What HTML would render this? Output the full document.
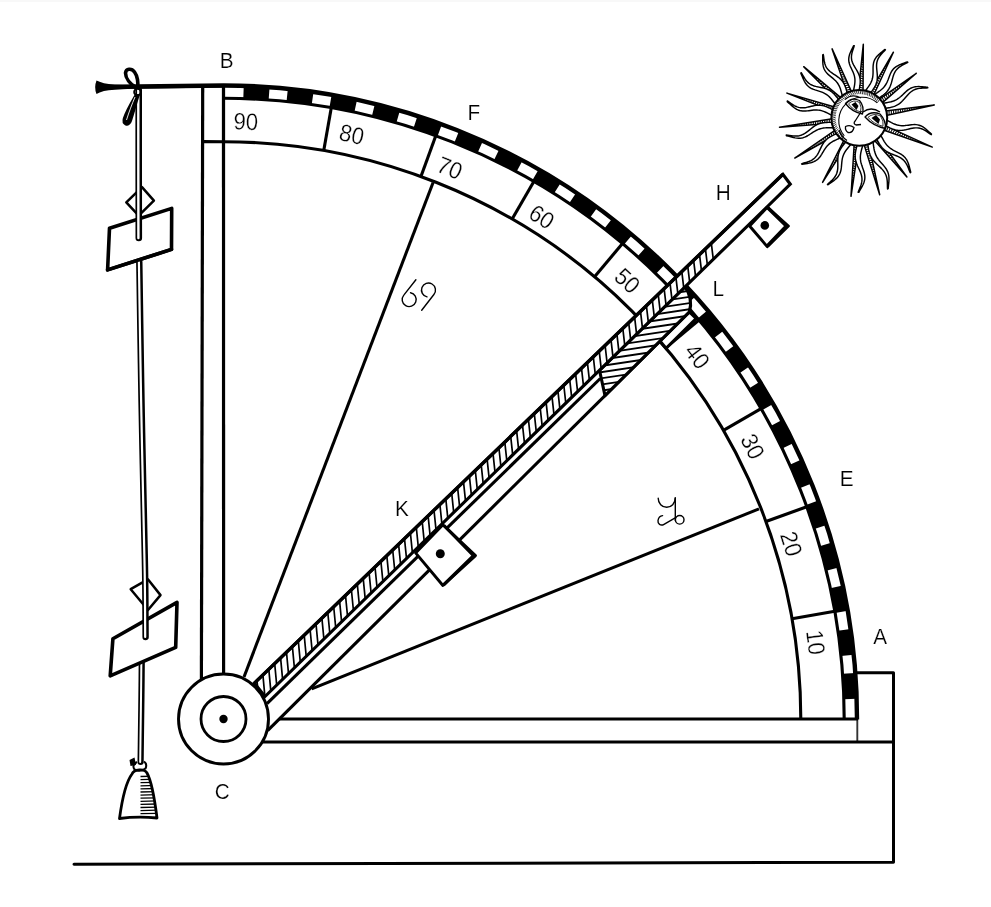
<!DOCTYPE html>
<html><head><meta charset="utf-8"><style>
html,body{margin:0;padding:0;background:#fff;}
svg{display:block;will-change:transform;}
.num{font-family:"Liberation Sans",sans-serif;font-size:23.8px;text-anchor:middle;dominant-baseline:central;fill:#000;stroke:#fff;stroke-width:0.28px;}
.lab{font-family:"Liberation Sans",sans-serif;font-size:22.3px;text-anchor:middle;fill:#000;stroke:#fff;stroke-width:0.2px;}
</style></head><body>
<svg width="991" height="907" viewBox="0 0 991 907">
<rect width="991" height="907" fill="#fff"/><rect width="991" height="2" fill="#f8f8f8"/>
<path d="M74 864.2 L893.5 862.3 L893.5 672.8 L857 672.8" fill="none" stroke="#000" stroke-width="3" stroke-linecap="round" stroke-linejoin="round"/>
<path d="M857.3 719 L857.3 742" stroke="#333" stroke-width="1.9"/>
<path d="M262 742 L893.5 742" stroke="#000" stroke-width="3.1"/>
<path d="M279 719 L858 719" stroke="#000" stroke-width="3.1"/>
<path d="M202.7 85 L201.4 680" stroke="#000" stroke-width="3.2"/>
<path d="M223.5 85 L223.6 676" stroke="#000" stroke-width="3.2"/>
<path d="M269.57 87.18 A633.5 633.5 0 0 0 243.73 85.82 L243.32 98.62 A620.7 620.7 0 0 1 268.63 99.94 Z" fill="#000"/>
<path d="M313.53 91.93 A633.5 633.5 0 0 0 287.85 88.78 L286.55 101.51 A620.7 620.7 0 0 1 311.71 104.6 Z" fill="#000"/>
<path d="M357.05 99.74 A633.5 633.5 0 0 0 331.65 94.8 L329.47 107.41 A620.7 620.7 0 0 1 354.35 112.25 Z" fill="#000"/>
<path d="M399.92 110.56 A633.5 633.5 0 0 0 374.93 103.87 L371.87 116.29 A620.7 620.7 0 0 1 396.36 122.86 Z" fill="#000"/>
<path d="M441.94 124.35 A633.5 633.5 0 0 0 417.47 115.93 L413.55 128.11 A620.7 620.7 0 0 1 437.52 136.37 Z" fill="#000"/>
<path d="M482.88 141.04 A633.5 633.5 0 0 0 459.07 130.93 L454.31 142.81 A620.7 620.7 0 0 1 477.64 152.71 Z" fill="#000"/>
<path d="M522.57 160.54 A633.5 633.5 0 0 0 499.52 148.79 L493.94 160.31 A620.7 620.7 0 0 1 516.53 171.82 Z" fill="#000"/>
<path d="M560.8 182.76 A633.5 633.5 0 0 0 538.62 169.44 L532.25 180.54 A620.7 620.7 0 0 1 553.98 193.59 Z" fill="#000"/>
<path d="M597.38 207.59 A633.5 633.5 0 0 0 576.19 192.76 L569.06 203.39 A620.7 620.7 0 0 1 589.83 217.93 Z" fill="#000"/>
<path d="M632.14 234.92 A633.5 633.5 0 0 0 612.04 218.64 L604.19 228.75 A620.7 620.7 0 0 1 623.89 244.7 Z" fill="#000"/>
<path d="M664.92 264.61 A633.5 633.5 0 0 0 646 246.96 L637.46 256.5 A620.7 620.7 0 0 1 656 273.79 Z" fill="#000"/>
<path d="M695.54 296.5 A633.5 633.5 0 0 0 677.89 277.58 L668.71 286.5 A620.7 620.7 0 0 1 686 305.04 Z" fill="#000"/>
<path d="M723.86 330.46 A633.5 633.5 0 0 0 707.58 310.36 L697.8 318.61 A620.7 620.7 0 0 1 713.75 338.31 Z" fill="#000"/>
<path d="M749.74 366.31 A633.5 633.5 0 0 0 734.91 345.12 L724.57 352.67 A620.7 620.7 0 0 1 739.11 373.44 Z" fill="#000"/>
<path d="M773.06 403.88 A633.5 633.5 0 0 0 759.74 381.7 L748.91 388.52 A620.7 620.7 0 0 1 761.96 410.25 Z" fill="#000"/>
<path d="M793.71 442.98 A633.5 633.5 0 0 0 781.96 419.93 L770.68 425.97 A620.7 620.7 0 0 1 782.19 448.56 Z" fill="#000"/>
<path d="M811.57 483.43 A633.5 633.5 0 0 0 801.46 459.62 L789.79 464.86 A620.7 620.7 0 0 1 799.69 488.19 Z" fill="#000"/>
<path d="M826.57 525.03 A633.5 633.5 0 0 0 818.15 500.56 L806.13 504.98 A620.7 620.7 0 0 1 814.39 528.95 Z" fill="#000"/>
<path d="M838.63 567.57 A633.5 633.5 0 0 0 831.94 542.58 L819.64 546.14 A620.7 620.7 0 0 1 826.21 570.63 Z" fill="#000"/>
<path d="M847.7 610.85 A633.5 633.5 0 0 0 842.76 585.45 L830.25 588.15 A620.7 620.7 0 0 1 835.09 613.03 Z" fill="#000"/>
<path d="M853.72 654.65 A633.5 633.5 0 0 0 850.57 628.97 L837.9 630.79 A620.7 620.7 0 0 1 840.99 655.95 Z" fill="#000"/>
<path d="M856.68 698.77 A633.5 633.5 0 0 0 855.32 672.93 L842.56 673.87 A620.7 620.7 0 0 1 843.88 699.18 Z" fill="#000"/>
<path d="M800.8 719 A577.3 577.3 0 0 0 223.5 141.7 L202.6 141.6" fill="none" stroke="#000" stroke-width="3.1"/>
<path d="M844.2 719 A620.7 620.7 0 0 0 223.5 98.3" fill="none" stroke="#000" stroke-width="3.1"/>
<path d="M857 719.5 L857 719 A633.5 633.5 0 0 0 223.5 85.5 L96 87" fill="none" stroke="#000" stroke-width="4.4"/>
<path d="M792.03 618.75 L834.77 611.22" stroke="#000" stroke-width="3.1"/>
<path d="M765.98 521.55 L806.77 506.71" stroke="#000" stroke-width="3.1"/>
<path d="M723.46 430.35 L761.04 408.65" stroke="#000" stroke-width="3.1"/>
<path d="M665.74 347.92 L698.98 320.02" stroke="#000" stroke-width="3.1"/>
<path d="M594.58 276.76 L622.48 243.52" stroke="#000" stroke-width="3.1"/>
<path d="M512.15 219.04 L533.85 181.46" stroke="#000" stroke-width="3.1"/>
<path d="M420.95 176.52 L435.79 135.73" stroke="#000" stroke-width="3.1"/>
<path d="M323.75 150.47 L331.28 107.73" stroke="#000" stroke-width="3.1"/>
<text x="0" y="0" transform="translate(815.79 642.45) rotate(82.64) scale(0.93 1)" class="num">10</text>
<text x="0" y="0" transform="translate(791.4 543.79) rotate(72.85) scale(0.93 1)" class="num">20</text>
<text x="0" y="0" transform="translate(752.73 446.4) rotate(62.75) scale(0.93 1)" class="num">30</text>
<text x="0" y="0" transform="translate(697.43 356.26) rotate(52.57) scale(0.93 1)" class="num">40</text>
<text x="0" y="0" transform="translate(627.38 280.66) rotate(42.66) scale(0.93 1)" class="num">50</text>
<text x="0" y="0" transform="translate(541.79 216.88) rotate(32.37) scale(0.93 1)" class="num">60</text>
<text x="0" y="0" transform="translate(449.79 167.9) rotate(22.32) scale(0.93 1)" class="num">70</text>
<text x="0" y="0" transform="translate(351.9 134.33) rotate(12.39) scale(0.93 1)" class="num">80</text>
<text x="0" y="0" transform="translate(245.9 121.54) rotate(2.15) scale(0.93 1)" class="num">90</text>
<path d="M244 677 L433.1 182.5" stroke="#000" stroke-width="3.05"/>
<path d="M311.7 688.8 L759 508.9" stroke="#000" stroke-width="3.05"/>
<path d="M267 703.55 L600.3 378.5" stroke="#000" stroke-width="3.1"/>
<path d="M267.6 730.6 L689.4 311.8" stroke="#000" stroke-width="3.1"/>
<path d="M689.4 311.8 L659.91 341.08 L666.09 348.33 L696.12 318.52 Z" fill="#fff" stroke="#000" stroke-width="3.1"/>
<clipPath id="cpar"><path d="M599.5 370.28 L685.2 286.7 Q693.2 299.25 689.4 311.8 L605 395.6 Z"/></clipPath>
<path d="M599.5 370.28 L685.2 286.7 Q693.2 299.25 689.4 311.8 L605 395.6 Z" fill="#fff"/>
<path clip-path="url(#cpar)" d="M590 287 L710 269 M590 293.2 L710 275.2 M590 299.4 L710 281.4 M590 305.6 L710 287.6 M590 311.8 L710 293.8 M590 318 L710 300 M590 324.2 L710 306.2 M590 330.4 L710 312.4 M590 336.6 L710 318.6 M590 342.8 L710 324.8 M590 349 L710 331 M590 355.2 L710 337.2 M590 361.4 L710 343.4 M590 367.6 L710 349.6 M590 373.8 L710 355.8 M590 380 L710 362 M590 386.2 L710 368.2 M590 392.4 L710 374.4 M590 398.6 L710 380.6 M590 404.8 L710 386.8 M590 411 L710 393 M590 417.2 L710 399.2 M590 423.4 L710 405.4 M590 429.6 L710 411.6 M590 435.8 L710 417.8 M590 442 L710 424 M590 448.2 L710 430.2 M590 454.4 L710 436.4 M590 460.6 L710 442.6 M590 466.8 L710 448.8 M590 473 L710 455 M590 479.2 L710 461.2 M590 485.4 L710 467.4 M590 491.6 L710 473.6 M590 497.8 L710 479.8 M590 504 L710 486 M590 510.2 L710 492.2 M590 516.4 L710 498.4 M590 522.6 L710 504.6 M590 528.8 L710 510.8 M590 535 L710 517 M590 541.2 L710 523.2 M590 547.4 L710 529.4 M590 553.6 L710 535.6 M590 559.8 L710 541.8" stroke="#000" stroke-width="1.9"/>
<path d="M599.5 370.28 L685.2 286.7 Q693.2 299.25 689.4 311.8 L605 395.6 Z" fill="none" stroke="#000" stroke-width="3.1" stroke-linejoin="round"/>
<path d="M254.4 683.1 L782.9 174.3 L790.3 184.2 L265 696.5 Z" fill="#fff" stroke="#000" stroke-width="3.1" stroke-linejoin="miter"/>
<clipPath id="cali"><path d="M254.4 683.1 L782.9 174.3 L790.3 184.2 L265 696.5 Z"/></clipPath>
<path clip-path="url(#cali)" d="M256.9 679.63 L259.1 703.33 M262.8 673.95 L265 697.57 M268.7 668.27 L270.9 691.82 M274.6 662.59 L276.8 686.06 M280.5 656.91 L282.7 680.31 M286.4 651.23 L288.6 674.56 M292.3 645.55 L294.5 668.8 M298.2 639.87 L300.4 663.05 M304.1 634.19 L306.3 657.29 M310 628.51 L312.2 651.54 M315.9 622.83 L318.1 645.79 M321.8 617.15 L324 640.03 M327.7 611.47 L329.9 634.28 M333.6 605.79 L335.8 628.52 M339.5 600.11 L341.7 622.77 M345.4 594.43 L347.6 617.02 M351.3 588.75 L353.5 611.26 M357.2 583.07 L359.4 605.51 M363.1 577.39 L365.3 599.75 M369 571.71 L371.2 594 M374.9 566.03 L377.1 588.25 M380.8 560.35 L383 582.49 M386.7 554.67 L388.9 576.74 M392.6 548.99 L394.8 570.99 M398.5 543.31 L400.7 565.23 M404.4 537.63 L406.6 559.48 M410.3 531.95 L412.5 553.72 M416.2 526.27 L418.4 547.97 M422.1 520.59 L424.3 542.22 M428 514.91 L430.2 536.46 M433.9 509.23 L436.1 530.71 M439.8 503.55 L442 524.95 M445.7 497.87 L447.9 519.2 M451.6 492.19 L453.8 513.45 M457.5 486.51 L459.7 507.69 M463.4 480.83 L465.6 501.94 M469.3 475.15 L471.5 496.18 M475.2 469.47 L477.4 490.43 M481.1 463.79 L483.3 484.68 M487 458.11 L489.2 478.92 M492.9 452.43 L495.1 473.17 M498.8 446.75 L501 467.41 M504.7 441.07 L506.9 461.66 M510.6 435.39 L512.8 455.91 M516.5 429.71 L518.7 450.15 M522.4 424.03 L524.6 444.4 M528.3 418.35 L530.5 438.64 M534.2 412.67 L536.4 432.89 M540.1 406.99 L542.3 427.14 M546 401.31 L548.2 421.38 M551.9 395.63 L554.1 415.63 M557.8 389.95 L560 409.87 M563.7 384.27 L565.9 404.12 M569.6 378.59 L571.8 398.37 M575.5 372.91 L577.7 392.61 M581.4 367.23 L583.6 386.86 M587.3 361.55 L589.5 381.1 M593.2 355.87 L595.4 375.35 M599.1 350.19 L601.3 369.6 M605 344.51 L607.2 363.84 M610.9 338.83 L613.1 358.09 M616.8 333.15 L619 352.33 M622.7 327.47 L624.9 346.58 M628.6 321.79 L630.8 340.83 M634.5 316.11 L636.7 335.07 M640.4 310.43 L642.6 329.32 M646.3 304.75 L648.5 323.56 M652.2 299.07 L654.4 317.81 M658.1 293.39 L660.3 312.06 M664 287.71 L666.2 306.3 M669.9 282.03 L672.1 300.55 M675.8 276.35 L678 294.79 M681.7 270.67 L683.9 289.04 M687.6 264.99 L689.8 283.29 M693.5 259.31 L695.7 277.53 M699.4 253.63 L701.6 271.78 M705.3 247.95 L707.5 266.02 M711.2 242.27 L713.4 260.27" stroke="#000" stroke-width="1.7"/>
<path d="M254.4 683.1 L782.9 174.3" stroke="#000" stroke-width="3.4"/>
<path d="M442.9 524.7 L475.5 555.6 L442.9 585.5 L415.6 552.9 Z" fill="#fff" stroke="#000" stroke-width="2.9" stroke-linejoin="round"/>
<path d="M444 525.5 L473.5 555.6 L443.5 585" fill="none" stroke="#000" stroke-width="3.2" stroke-linejoin="miter"/>
<circle cx="440.3" cy="553.8" r="4.5" fill="#000"/>
<path d="M767.2 207.2 L788.4 226 L767.2 246.6 L749.6 226 Z" fill="#fff" stroke="#000" stroke-width="2.9" stroke-linejoin="round"/>
<path d="M768 208 L786.5 226 L767.8 245.6" fill="none" stroke="#000" stroke-width="3.6"/>
<circle cx="764.8" cy="225.4" r="4.3" fill="#000"/>
<circle cx="223.5" cy="719.0" r="45" fill="#fff" stroke="#000" stroke-width="2.9"/>
<circle cx="223.5" cy="719.0" r="22.5" fill="none" stroke="#000" stroke-width="2.8"/>
<circle cx="223.5" cy="719.0" r="4.2" fill="#000"/>
<g fill="none" stroke="#000" stroke-width="1.4" stroke-linecap="round"><path d="M658.2 498.3 A8.5 9 0 0 0 675.2 498.3"/><path d="M675.3 497.8 L675.3 520.5"/><circle cx="679.7" cy="519.8" r="4.3"/><path d="M675.6 517.6 L664 524.3 C660.5 526.3 657.6 523.8 658 520.5 C658.5 517.5 660.5 515.8 662.6 515.6"/></g>
<g fill="none" stroke="#000" stroke-width="1.4" stroke-linecap="round"><path d="M415.9 279.8 L403.8 295.1 A7 7 0 1 0 410.5 292.7"/><path d="M421.7 310.2 L433.9 294.5 A7 7 0 1 0 427 296.9"/></g>
<path d="M96.5 80.5 Q99 81.5 104 83.2 Q112 85 132 85.3 L224 84 L224 87.4 L132 88.8 Q112 89.5 104 91 Q99 92.5 96.5 94 Q93.8 87.3 96.5 80.5 Z" fill="#000"/>
<path d="M126.3 202.4 L142 187.2 L153.9 200.7 L138.7 215.6 Z" fill="none" stroke="#000" stroke-width="2.5" stroke-linejoin="round"/>
<path d="M130.7 589.2 L147.9 579.3 L160.5 595.1 L148 610 Z" fill="none" stroke="#000" stroke-width="2.5" stroke-linejoin="round"/>
<path d="M141.8 655 L141.78 657.67 L141.75 661.17 L141.72 665.34 L141.68 670 L141.64 674.97 L141.6 680.08 L141.55 685.15 L141.5 690 L141.45 694.82 L141.39 699.84 L141.32 704.99 L141.26 710.19 L141.19 715.37 L141.12 720.45 L141.06 725.35 L141 730 L140.94 734.6 L140.88 739.31 L140.83 743.99 L140.77 748.5 L140.72 752.7 L140.67 756.44 L140.63 759.59 L140.6 762" fill="none" stroke="#000" stroke-width="6.2" stroke-linecap="round" stroke-linejoin="round"/><path d="M141.4 655 L141.38 657.67 L141.35 661.17 L141.32 665.34 L141.28 670 L141.24 674.97 L141.2 680.08 L141.15 685.15 L141.1 690 L141.05 694.82 L140.99 699.84 L140.92 704.99 L140.86 710.19 L140.79 715.37 L140.72 720.45 L140.66 725.35 L140.6 730 L140.54 734.6 L140.48 739.31 L140.43 743.99 L140.37 748.5 L140.32 752.7 L140.27 756.44 L140.23 759.59 L140.2 762" fill="none" stroke="#fff" stroke-width="2.0" stroke-linecap="round" stroke-linejoin="round"/>
<path d="M109.5 228.2 L171.7 208.4 L171.5 249.4 L107.6 269.9 Z" fill="#fff" stroke="#000" stroke-width="3.6" stroke-linejoin="round"/>
<path d="M112.9 638.8 L177 602.4 L175.7 647.4 L110.2 675.8 Z" fill="#fff" stroke="#000" stroke-width="3.6" stroke-linejoin="round"/>
<path d="M138.7 90 L138.7 95.35 L138.7 102.39 L138.7 110.77 L138.69 120.12 L138.69 130.09 L138.69 140.3 L138.7 150.39 L138.7 160 L138.71 169.9 L138.72 180.77 L138.73 192.09 L138.75 203.38 L138.77 214.11 L138.78 223.8 L138.79 231.93 L138.8 238" fill="none" stroke="#000" stroke-width="6.6" stroke-linecap="round" stroke-linejoin="round"/><path d="M138.3 90 L138.3 95.35 L138.3 102.39 L138.3 110.77 L138.29 120.12 L138.29 130.09 L138.29 140.3 L138.3 150.39 L138.3 160 L138.31 169.9 L138.32 180.77 L138.33 192.09 L138.35 203.38 L138.37 214.11 L138.38 223.8 L138.39 231.93 L138.4 238" fill="none" stroke="#fff" stroke-width="2.4" stroke-linecap="round" stroke-linejoin="round"/>
<path d="M139.3 262 L139.47 272.77 L139.69 287.22 L139.95 304.43 L140.24 323.5 L140.56 343.5 L140.88 363.53 L141.2 382.67 L141.5 400 L141.81 416.27 L142.13 432.67 L142.47 448.96 L142.81 464.88 L143.14 480.19 L143.46 494.64 L143.75 507.99 L144 520 L144.22 530.39 L144.41 539.29 L144.58 547.03 L144.73 553.94 L144.87 560.36 L144.99 566.62 L145.1 573.05 L145.2 580 L145.29 587.66 L145.37 595.8 L145.43 604.1 L145.47 612.25 L145.51 619.93 L145.55 626.83 L145.57 632.62 L145.6 637" fill="none" stroke="#000" stroke-width="6.4" stroke-linecap="round" stroke-linejoin="round"/><path d="M138.9 262 L139.07 272.77 L139.29 287.22 L139.55 304.43 L139.84 323.5 L140.16 343.5 L140.48 363.53 L140.8 382.67 L141.1 400 L141.41 416.27 L141.73 432.67 L142.07 448.96 L142.41 464.88 L142.74 480.19 L143.06 494.64 L143.35 507.99 L143.6 520 L143.82 530.39 L144.01 539.29 L144.18 547.03 L144.33 553.94 L144.47 560.36 L144.59 566.62 L144.7 573.05 L144.8 580 L144.89 587.66 L144.97 595.8 L145.03 604.1 L145.07 612.25 L145.11 619.93 L145.15 626.83 L145.17 632.62 L145.2 637" fill="none" stroke="#fff" stroke-width="2.2" stroke-linecap="round" stroke-linejoin="round"/>
<path d="M171.5 249.4 L107.6 269.9" fill="none" stroke="#000" stroke-width="3.6" stroke-linecap="round"/>
<clipPath id="cbell"><path d="M119.5 818.5 C122 800 126 782 132 774 C134 769 144.5 768.5 147 773 C152 782 155 802 157 818 Q138 816 119.5 818.5 Z"/></clipPath>
<path d="M119.5 818.5 C122 800 126 782 132 774 C134 769 144.5 768.5 147 773 C152 782 155 802 157 818 Q138 816 119.5 818.5 Z" fill="#fff" stroke="#000" stroke-width="2.8" stroke-linejoin="round"/>
<path clip-path="url(#cbell)" d="M140.5 776.5 L160 776 M140.5 779.6 L160 779.1 M140.5 782.7 L160 782.2 M140.5 785.8 L160 785.3 M140.5 788.9 L160 788.4 M140.5 792 L160 791.5 M140.5 795.1 L160 794.6 M140.5 798.2 L160 797.7 M140.5 801.3 L160 800.8 M140.5 804.4 L160 803.9 M140.5 807.5 L160 807 M140.5 810.6 L160 810.1 M140.5 813.7 L160 813.2" stroke="#000" stroke-width="1.3"/>
<path d="M137 762 Q131.5 765 134.5 769.5 Q140 772.5 145.5 768.5 Q147.5 764 144 761.5" fill="none" stroke="#000" stroke-width="2"/>
<path d="M129.5 760 L134.5 757.5 L136 765 L130.5 766 Z" fill="#000"/>
<g fill="none" stroke="#000" stroke-linejoin="round"><path d="M136.5 88 C130 84 125.5 78 125.5 73 C126 68.5 131.5 68 134.5 72 C137.5 76 138.5 83 137.5 88" stroke-width="3.6"/><path d="M137 94 C133 101 127.5 110 124.5 118.5 C123 124 127.5 126 130 121.5 C132.5 114 135.5 103 138 95" stroke-width="3.4" fill="#000"/><circle cx="137.5" cy="92" r="3.3" stroke-width="2"/></g>
<path d="M126.5 120 C129 112 132 104 135 97" fill="none" stroke="#fff" stroke-width="0.9"/>
<path d="M863.06 91.06 L863.3 44.3 L858.47 90.81" fill="#fff" stroke="#000" stroke-width="1.5" stroke-linejoin="round"/>
<path d="M862.86 88.05 L859.02 87.24 M862.88 85.75 L859.25 84.95 M862.91 83.45 L859.48 82.66 M862.93 81.14 L859.7 80.37 M862.95 78.84 L859.93 78.08 M862.98 76.54 L860.16 75.78 M863 74.24 L860.38 73.49 M863.02 71.93 L860.61 71.2 M863.04 69.63 L860.84 68.91 M863.07 67.33 L861.06 66.62 M863.09 65.03 L861.29 64.33 M863.11 62.73 L861.52 62.04 M863.14 60.42 L861.74 59.75 M863.16 58.12 L861.97 57.46" stroke="#000" stroke-width="1.05"/>
<path d="M873.75 94.99 L893.4 52.2 L869.67 92.87" fill="#fff" stroke="#000" stroke-width="1.5" stroke-linejoin="round"/>
<path d="M874.81 92.16 L871.65 89.84 M875.78 90.08 L872.8 87.85 M876.75 87.99 L873.95 85.86 M877.72 85.9 L875.1 83.86 M878.69 83.81 L876.25 81.87 M879.67 81.73 L877.4 79.87 M880.64 79.64 L878.55 77.88 M881.61 77.55 L879.7 75.89 M882.58 75.46 L880.85 73.89 M883.55 73.38 L882 71.9 M884.52 71.29 L883.15 69.9 M885.49 69.2 L884.3 67.91 M886.46 67.11 L885.46 65.92 M887.43 65.03 L886.61 63.92" stroke="#000" stroke-width="1.05"/>
<path d="M881.92 103.06 L916.3 73.3 L879.09 99.43" fill="#fff" stroke="#000" stroke-width="1.5" stroke-linejoin="round"/>
<path d="M884.06 100.92 L882.15 97.51 M885.81 99.43 L884.03 96.17 M887.55 97.93 L885.91 94.84 M889.3 96.43 L887.78 93.51 M891.05 94.93 L889.66 92.18 M892.8 93.43 L891.54 90.84 M894.55 91.94 L893.42 89.51 M896.3 90.44 L895.29 88.18 M898.05 88.94 L897.17 86.85 M899.79 87.44 L899.05 85.51 M901.54 85.94 L900.93 84.18 M903.29 84.45 L902.8 82.85 M905.04 82.95 L904.68 81.51 M906.79 81.45 L906.56 80.18" stroke="#000" stroke-width="1.05"/>
<path d="M886.2 115.54 L934.3 105 L885.43 111.01" fill="#fff" stroke="#000" stroke-width="1.5" stroke-linejoin="round"/>
<path d="M889.1 114.69 L889.04 110.75 M891.35 114.2 L891.32 110.46 M893.6 113.72 L893.61 110.17 M895.85 113.24 L895.89 109.88 M898.1 112.76 L898.17 109.59 M900.36 112.27 L900.46 109.3 M902.61 111.79 L902.74 109 M904.86 111.31 L905.02 108.71 M907.11 110.83 L907.31 108.42 M909.36 110.34 L909.59 108.13 M911.61 109.86 L911.87 107.84 M913.86 109.38 L914.16 107.55 M916.11 108.9 L916.44 107.25 M918.36 108.42 L918.72 106.96 M920.61 107.93 L921.01 106.67" stroke="#000" stroke-width="1.05"/>
<path d="M883.41 129.95 L932.3 147.1 L885.12 125.69" fill="#fff" stroke="#000" stroke-width="1.5" stroke-linejoin="round"/>
<path d="M886.32 130.75 L888.33 127.35 M888.49 131.52 L890.43 128.29 M890.66 132.29 L892.53 129.24 M892.83 133.06 L894.63 130.18 M895 133.83 L896.73 131.12 M897.17 134.6 L898.83 132.06 M899.33 135.38 L900.93 133 M901.5 136.15 L903.03 133.95 M903.67 136.92 L905.13 134.89 M905.84 137.69 L907.23 135.83 M908.01 138.46 L909.33 136.77 M910.18 139.23 L911.43 137.71 M912.35 140 L913.53 138.66 M914.52 140.77 L915.63 139.6 M916.68 141.55 L917.73 140.54 M918.85 142.32 L919.83 141.48" stroke="#000" stroke-width="1.05"/>
<path d="M874.38 140.19 L906.9 176.9 L877.96 137.31" fill="#fff" stroke="#000" stroke-width="1.5" stroke-linejoin="round"/>
<path d="M876.54 142.31 L879.94 140.33 M878.06 144.04 L881.31 142.19 M879.58 145.77 L882.68 144.04 M881.1 147.5 L884.05 145.89 M882.62 149.23 L885.41 147.74 M884.13 150.96 L886.78 149.6 M885.65 152.69 L888.15 151.45 M887.17 154.42 L889.51 153.3 M888.69 156.15 L890.88 155.15 M890.21 157.88 L892.25 157 M891.73 159.61 L893.62 158.86 M893.24 161.34 L894.98 160.71 M894.76 163.07 L896.35 162.56 M896.28 164.8 L897.72 164.41 M897.8 166.53 L899.08 166.27" stroke="#000" stroke-width="1.05"/>
<path d="M863.97 144.39 L879.7 194.7 L868.42 143.21" fill="#fff" stroke="#000" stroke-width="1.5" stroke-linejoin="round"/>
<path d="M865.08 147.2 L869.01 146.78 M865.76 149.4 L869.51 149.03 M866.43 151.6 L870.01 151.27 M867.11 153.8 L870.51 153.52 M867.79 156 L871.02 155.76 M868.47 158.2 L871.52 158.01 M869.14 160.4 L872.02 160.26 M869.82 162.6 L872.52 162.5 M870.5 164.8 L873.03 164.75 M871.17 167 L873.53 167 M871.85 169.2 L874.03 169.24 M872.53 171.4 L874.53 171.49 M873.21 173.6 L875.04 173.74 M873.88 175.8 L875.54 175.98 M874.56 178 L876.04 178.23 M875.24 180.2 L876.54 180.47 M875.91 182.4 L877.05 182.72" stroke="#000" stroke-width="1.05"/>
<path d="M854.18 144.31 L851 196.3 L858.76 144.79" fill="#fff" stroke="#000" stroke-width="1.5" stroke-linejoin="round"/>
<path d="M854.22 147.33 L858.03 148.34 M854.07 149.63 L857.7 150.61 M853.91 151.92 L857.37 152.89 M853.76 154.22 L857.03 155.17 M853.61 156.52 L856.7 157.45 M853.46 158.81 L856.37 159.72 M853.31 161.11 L856.04 162 M853.16 163.41 L855.7 164.28 M853.01 165.7 L855.37 166.56 M852.86 168 L855.04 168.83 M852.71 170.3 L854.7 171.11 M852.56 172.59 L854.37 173.39 M852.41 174.89 L854.04 175.67 M852.26 177.19 L853.71 177.95 M852.1 179.49 L853.37 180.22 M851.95 181.78 L853.04 182.5 M851.8 184.08 L852.71 184.78" stroke="#000" stroke-width="1.05"/>
<path d="M844.01 140.05 L822.6 182.4 L848.01 142.33" fill="#fff" stroke="#000" stroke-width="1.5" stroke-linejoin="round"/>
<path d="M842.84 142.84 L845.92 145.28 M841.8 144.89 L844.7 147.23 M840.75 146.94 L843.47 149.18 M839.7 148.99 L842.25 151.13 M838.65 151.04 L841.03 153.08 M837.6 153.09 L839.8 155.03 M836.55 155.14 L838.58 156.98 M835.5 157.19 L837.36 158.93 M834.45 159.24 L836.13 160.88 M833.41 161.28 L834.91 162.83 M832.36 163.33 L833.69 164.78 M831.31 165.38 L832.46 166.73 M830.26 167.43 L831.24 168.68 M829.21 169.48 L830.02 170.63 M828.16 171.53 L828.79 172.58" stroke="#000" stroke-width="1.05"/>
<path d="M835.25 130.08 L794.8 158 L837.69 133.98" fill="#fff" stroke="#000" stroke-width="1.5" stroke-linejoin="round"/>
<path d="M832.9 131.97 L834.44 135.58 M831 133.26 L832.44 136.72 M829.1 134.56 L830.44 137.85 M827.2 135.86 L828.43 138.98 M825.29 137.16 L826.43 140.12 M823.39 138.46 L824.43 141.25 M821.49 139.76 L822.42 142.39 M819.59 141.06 L820.42 143.52 M817.69 142.36 L818.42 144.66 M815.79 143.66 L816.41 145.79 M813.89 144.95 L814.41 146.92 M811.99 146.25 L812.41 148.06 M810.09 147.55 L810.41 149.19 M808.19 148.85 L808.4 150.33 M806.29 150.15 L806.4 151.46" stroke="#000" stroke-width="1.05"/>
<path d="M832.32 118.66 L779.5 127.2 L832.85 123.23" fill="#fff" stroke="#000" stroke-width="1.5" stroke-linejoin="round"/>
<path d="M829.38 119.36 L829.24 123.31 M827.1 119.71 L826.94 123.49 M824.83 120.07 L824.65 123.67 M822.56 120.43 L822.35 123.85 M820.28 120.79 L820.06 124.03 M818.01 121.15 L817.76 124.21 M815.73 121.5 L815.47 124.39 M813.46 121.86 L813.18 124.57 M811.19 122.22 L810.88 124.75 M808.91 122.58 L808.59 124.93 M806.64 122.93 L806.29 125.11 M804.37 123.29 L804 125.3 M802.09 123.65 L801.7 125.48 M799.82 124.01 L799.41 125.66 M797.54 124.36 L797.11 125.84 M795.27 124.72 L794.82 126.02 M793 125.08 L792.52 126.2" stroke="#000" stroke-width="1.05"/>
<path d="M834.58 106.94 L786.9 93.1 L833.1 111.29" fill="#fff" stroke="#000" stroke-width="1.5" stroke-linejoin="round"/>
<path d="M831.63 106.31 L829.81 109.79 M829.42 105.65 L827.66 108.96 M827.21 105 L825.51 108.13 M825.01 104.35 L823.37 107.29 M822.8 103.7 L821.22 106.46 M820.59 103.05 L819.08 105.63 M818.38 102.39 L816.93 104.79 M816.17 101.74 L814.79 103.96 M813.97 101.09 L812.64 103.12 M811.76 100.44 L810.49 102.29 M809.55 99.79 L808.35 101.46 M807.34 99.14 L806.2 100.62 M805.14 98.48 L804.06 99.79 M802.93 97.83 L801.91 98.96 M800.72 97.18 L799.76 98.12 M798.51 96.53 L797.62 97.29" stroke="#000" stroke-width="1.05"/>
<path d="M841.05 97.9 L803.7 66.7 L837.94 101.29" fill="#fff" stroke="#000" stroke-width="1.5" stroke-linejoin="round"/>
<path d="M838.6 96.14 L835.53 98.59 M836.84 94.65 L833.9 96.96 M835.08 93.17 L832.28 95.33 M833.32 91.68 L830.65 93.71 M831.56 90.2 L829.02 92.08 M829.8 88.72 L827.39 90.45 M828.04 87.23 L825.77 88.82 M826.28 85.75 L824.14 87.19 M824.52 84.26 L822.51 85.56 M822.76 82.78 L820.88 83.93 M821 81.29 L819.26 82.31 M819.24 79.81 L817.63 80.68 M817.48 78.33 L816 79.05 M815.72 76.84 L814.38 77.42 M813.96 75.36 L812.75 75.79" stroke="#000" stroke-width="1.05"/>
<path d="M851.56 91.93 L832.1 48.9 L847.28 93.62" fill="#fff" stroke="#000" stroke-width="1.5" stroke-linejoin="round"/>
<path d="M850.12 89.28 L846.3 90.14 M849.19 87.17 L845.55 87.97 M848.25 85.07 L844.8 85.79 M847.31 82.97 L844.05 83.61 M846.37 80.87 L843.29 81.44 M845.43 78.77 L842.54 79.26 M844.49 76.66 L841.79 77.08 M843.55 74.56 L841.04 74.91 M842.62 72.46 L840.29 72.73 M841.68 70.36 L839.54 70.55 M840.74 68.25 L838.79 68.38 M839.8 66.15 L838.04 66.2 M838.86 64.05 L837.29 64.03 M837.92 61.95 L836.54 61.85" stroke="#000" stroke-width="1.05"/>
<path d="M859.24 89.75 L859.5 88.24 L859.75 86.73 L859.97 85.22 L860.14 83.71 L860.24 82.21 L860.24 80.72 L860.13 79.25 L859.9 77.78 L859.54 76.33 L859.05 74.9 L858.45 73.47 L857.75 72.06 L856.97 70.65 L856.14 69.25 L855.29 67.85 L854.45 66.45 L853.67 65.05 L852.96 63.63 L852.36 62.21 L851.9 60.77 L851.59 59.31 L851.44 57.84 L851.45 56.35 L851.61 54.85 L851.9 53.33 L852.31 51.8 L852.78 50.26 L853.29 48.72 L853.8 47.18 L854.25 45.64 L853.56 45.72 L852.84 47.28 L852.08 48.85 L851.31 50.41 L850.59 51.98 L849.95 53.53 L849.42 55.07 L849.03 56.6 L848.8 58.11 L848.73 59.61 L848.83 61.09 L849.09 62.55 L849.49 63.99 L850 65.43 L850.6 66.85 L851.26 68.27 L851.94 69.69 L852.6 71.11 L853.23 72.53 L853.78 73.96 L854.24 75.4 L854.59 76.85 L854.83 78.31 L854.94 79.79 L854.95 81.28 L854.85 82.77 L854.67 84.28 L854.43 85.79 L854.15 87.31 L853.85 88.83 L853.57 90.35" fill="#fff" stroke="#000" stroke-width="1.45" stroke-linejoin="round"/>
<path d="M871.1 92.36 L871.98 91.08 L872.86 89.79 L873.71 88.5 L874.5 87.19 L875.23 85.85 L875.87 84.48 L876.4 83.08 L876.81 81.64 L877.1 80.15 L877.28 78.62 L877.34 77.06 L877.31 75.46 L877.21 73.84 L877.05 72.2 L876.88 70.55 L876.72 68.91 L876.61 67.29 L876.58 65.69 L876.65 64.12 L876.84 62.61 L877.18 61.14 L877.67 59.72 L878.32 58.36 L879.11 57.04 L880.02 55.77 L881.04 54.53 L882.13 53.32 L883.25 52.12 L884.36 50.92 L885.43 49.71 L884.77 49.48 L883.45 50.61 L882.09 51.73 L880.73 52.84 L879.41 53.97 L878.16 55.13 L877.03 56.32 L876.02 57.56 L875.16 58.85 L874.46 60.2 L873.92 61.6 L873.53 63.05 L873.28 64.55 L873.13 66.08 L873.06 67.65 L873.05 69.23 L873.06 70.82 L873.06 72.41 L873.01 73.98 L872.9 75.53 L872.71 77.05 L872.41 78.53 L871.99 79.97 L871.47 81.38 L870.84 82.75 L870.11 84.08 L869.3 85.39 L868.44 86.68 L867.53 87.95 L866.62 89.22 L865.72 90.5" fill="#fff" stroke="#000" stroke-width="1.45" stroke-linejoin="round"/>
<path d="M879.17 98 L880.45 97.09 L881.73 96.16 L882.99 95.22 L884.21 94.25 L885.36 93.23 L886.45 92.15 L887.45 90.99 L888.35 89.76 L889.15 88.45 L889.86 87.06 L890.48 85.59 L891.01 84.07 L891.49 82.49 L891.93 80.88 L892.35 79.25 L892.79 77.64 L893.26 76.06 L893.79 74.53 L894.41 73.06 L895.14 71.69 L895.98 70.41 L896.95 69.23 L898.04 68.15 L899.25 67.17 L900.56 66.28 L901.96 65.45 L903.41 64.67 L904.89 63.91 L906.37 63.15 L907.81 62.36 L907.27 61.92 L905.62 62.54 L903.95 63.14 L902.27 63.74 L900.62 64.36 L899.04 65.03 L897.54 65.78 L896.16 66.61 L894.89 67.55 L893.75 68.59 L892.75 69.73 L891.86 70.98 L891.09 72.32 L890.4 73.72 L889.79 75.19 L889.22 76.69 L888.66 78.2 L888.09 79.71 L887.49 81.19 L886.84 82.62 L886.11 84 L885.3 85.3 L884.4 86.54 L883.41 87.69 L882.33 88.78 L881.17 89.8 L879.95 90.77 L878.67 91.69 L877.37 92.6 L876.05 93.49 L874.75 94.4" fill="#fff" stroke="#000" stroke-width="1.45" stroke-linejoin="round"/>
<path d="M885.71 108.36 L887.3 108.06 L888.88 107.75 L890.46 107.42 L892.01 107.04 L893.53 106.6 L895 106.07 L896.43 105.43 L897.81 104.69 L899.13 103.83 L900.4 102.85 L901.61 101.77 L902.79 100.6 L903.93 99.36 L905.04 98.07 L906.15 96.77 L907.27 95.48 L908.41 94.23 L909.58 93.06 L910.8 91.98 L912.07 91.03 L913.42 90.21 L914.83 89.54 L916.31 89.02 L917.86 88.63 L919.46 88.36 L921.11 88.19 L922.79 88.09 L924.49 88.02 L926.19 87.95 L927.86 87.83 L927.56 87.19 L925.77 87.08 L923.97 86.92 L922.16 86.76 L920.37 86.64 L918.61 86.59 L916.91 86.64 L915.26 86.82 L913.68 87.15 L912.18 87.62 L910.74 88.24 L909.38 89.01 L908.07 89.9 L906.82 90.9 L905.6 91.98 L904.41 93.11 L903.23 94.26 L902.04 95.4 L900.83 96.5 L899.59 97.53 L898.31 98.48 L896.99 99.34 L895.61 100.09 L894.19 100.73 L892.71 101.26 L891.19 101.71 L889.64 102.08 L888.06 102.39 L886.46 102.67 L884.85 102.94 L883.25 103.22" fill="#fff" stroke="#000" stroke-width="1.45" stroke-linejoin="round"/>
<path d="M886.1 126.07 L887.52 126.77 L888.95 127.47 L890.38 128.15 L891.82 128.77 L893.27 129.31 L894.75 129.77 L896.25 130.11 L897.77 130.33 L899.31 130.43 L900.88 130.4 L902.47 130.26 L904.09 130.02 L905.72 129.7 L907.35 129.34 L909 128.95 L910.63 128.58 L912.26 128.26 L913.88 128.02 L915.47 127.88 L917.04 127.88 L918.57 128.02 L920.08 128.33 L921.55 128.79 L922.99 129.4 L924.41 130.14 L925.8 130.99 L927.18 131.91 L928.56 132.87 L929.93 133.82 L931.32 134.72 L931.45 134.03 L930.12 132.87 L928.8 131.67 L927.47 130.46 L926.14 129.3 L924.79 128.21 L923.42 127.24 L922.02 126.4 L920.6 125.72 L919.13 125.21 L917.64 124.85 L916.12 124.65 L914.56 124.59 L912.99 124.65 L911.39 124.79 L909.79 124.98 L908.18 125.2 L906.58 125.4 L904.98 125.56 L903.4 125.66 L901.83 125.66 L900.29 125.55 L898.77 125.33 L897.27 125 L895.79 124.55 L894.34 124 L892.9 123.37 L891.47 122.68 L890.05 121.95 L888.64 121.21 L887.22 120.48" fill="#fff" stroke="#000" stroke-width="1.45" stroke-linejoin="round"/>
<path d="M876.91 139.63 L877.72 141.03 L878.53 142.43 L879.36 143.81 L880.24 145.15 L881.16 146.44 L882.15 147.66 L883.22 148.8 L884.38 149.86 L885.63 150.83 L886.97 151.71 L888.39 152.5 L889.89 153.23 L891.44 153.89 L893.02 154.53 L894.62 155.15 L896.21 155.78 L897.76 156.44 L899.26 157.17 L900.68 157.97 L902 158.86 L903.22 159.86 L904.32 160.98 L905.3 162.2 L906.18 163.54 L906.96 164.97 L907.67 166.47 L908.32 168.03 L908.95 169.61 L909.58 171.19 L910.25 172.74 L910.75 172.24 L910.27 170.51 L909.82 168.75 L909.37 166.99 L908.89 165.26 L908.36 163.58 L907.74 161.99 L907.03 160.49 L906.2 159.11 L905.26 157.84 L904.19 156.69 L903.02 155.65 L901.74 154.71 L900.38 153.85 L898.96 153.05 L897.5 152.3 L896.02 151.56 L894.55 150.81 L893.12 150.03 L891.73 149.2 L890.41 148.3 L889.16 147.33 L888 146.27 L886.93 145.14 L885.93 143.92 L885.01 142.63 L884.14 141.28 L883.32 139.89 L882.53 138.46 L881.75 137.03 L880.96 135.62" fill="#fff" stroke="#000" stroke-width="1.45" stroke-linejoin="round"/>
<path d="M867.8 144.52 L868.07 146.18 L868.34 147.83 L868.64 149.46 L868.99 151.08 L869.41 152.67 L869.91 154.22 L870.52 155.72 L871.23 157.18 L872.07 158.58 L873.02 159.93 L874.08 161.24 L875.24 162.51 L876.46 163.75 L877.73 164.96 L879.02 166.17 L880.29 167.38 L881.52 168.62 L882.68 169.88 L883.73 171.19 L884.66 172.56 L885.45 173.98 L886.1 175.47 L886.59 177.02 L886.95 178.63 L887.18 180.3 L887.32 182.01 L887.38 183.75 L887.41 185.5 L887.45 187.25 L887.54 188.98 L888.18 188.7 L888.34 186.87 L888.54 185.01 L888.74 183.16 L888.9 181.32 L888.98 179.52 L888.97 177.76 L888.82 176.05 L888.53 174.41 L888.09 172.83 L887.49 171.33 L886.75 169.88 L885.88 168.49 L884.9 167.15 L883.84 165.84 L882.73 164.56 L881.6 163.28 L880.48 162 L879.4 160.7 L878.39 159.37 L877.46 158.01 L876.63 156.6 L875.91 155.14 L875.3 153.64 L874.79 152.1 L874.37 150.51 L874.03 148.89 L873.75 147.24 L873.51 145.58 L873.28 143.91 L873.03 142.25" fill="#fff" stroke="#000" stroke-width="1.45" stroke-linejoin="round"/>
<path d="M856.94 145.75 L856.55 147.31 L856.17 148.87 L855.82 150.43 L855.52 151.99 L855.3 153.54 L855.17 155.1 L855.15 156.65 L855.26 158.21 L855.5 159.76 L855.86 161.3 L856.33 162.85 L856.91 164.39 L857.57 165.94 L858.28 167.48 L859 169.02 L859.71 170.56 L860.38 172.1 L860.96 173.65 L861.43 175.19 L861.77 176.74 L861.95 178.29 L861.98 179.84 L861.84 181.4 L861.55 182.96 L861.13 184.52 L860.6 186.08 L860 187.65 L859.35 189.21 L858.72 190.78 L858.13 192.34 L858.83 192.33 L859.68 190.76 L860.58 189.19 L861.47 187.62 L862.32 186.05 L863.1 184.49 L863.76 182.92 L864.27 181.36 L864.63 179.8 L864.83 178.24 L864.86 176.69 L864.72 175.13 L864.45 173.59 L864.06 172.04 L863.59 170.49 L863.05 168.95 L862.5 167.4 L861.96 165.86 L861.46 164.31 L861.03 162.77 L860.69 161.22 L860.47 159.67 L860.36 158.12 L860.36 156.56 L860.49 155.01 L860.71 153.45 L861.02 151.89 L861.39 150.33 L861.8 148.77 L862.23 147.21 L862.64 145.65" fill="#fff" stroke="#000" stroke-width="1.45" stroke-linejoin="round"/>
<path d="M845.51 142.22 L844.52 143.46 L843.53 144.7 L842.57 145.95 L841.66 147.23 L840.81 148.53 L840.06 149.88 L839.4 151.26 L838.86 152.7 L838.44 154.19 L838.13 155.73 L837.93 157.31 L837.82 158.94 L837.78 160.59 L837.79 162.27 L837.82 163.95 L837.83 165.63 L837.8 167.29 L837.7 168.92 L837.49 170.5 L837.16 172.03 L836.69 173.5 L836.08 174.9 L835.31 176.24 L834.41 177.52 L833.38 178.74 L832.26 179.93 L831.06 181.08 L829.84 182.21 L828.62 183.35 L827.44 184.51 L828.08 184.79 L829.5 183.74 L830.96 182.7 L832.42 181.67 L833.84 180.62 L835.18 179.53 L836.43 178.4 L837.54 177.22 L838.51 175.97 L839.33 174.65 L839.99 173.27 L840.51 171.82 L840.9 170.32 L841.18 168.77 L841.38 167.18 L841.53 165.58 L841.66 163.96 L841.8 162.35 L841.99 160.76 L842.23 159.19 L842.56 157.66 L842.99 156.18 L843.53 154.74 L844.18 153.35 L844.93 152.01 L845.78 150.7 L846.7 149.43 L847.68 148.19 L848.69 146.96 L849.72 145.74 L850.73 144.51" fill="#fff" stroke="#000" stroke-width="1.45" stroke-linejoin="round"/>
<path d="M836.23 133.75 L834.8 134.43 L833.37 135.11 L831.96 135.82 L830.59 136.56 L829.26 137.36 L828 138.24 L826.81 139.2 L825.7 140.25 L824.67 141.4 L823.73 142.65 L822.86 143.98 L822.05 145.4 L821.3 146.87 L820.58 148.38 L819.87 149.9 L819.15 151.42 L818.4 152.89 L817.6 154.31 L816.72 155.64 L815.76 156.87 L814.7 157.98 L813.54 158.97 L812.27 159.84 L810.9 160.59 L809.45 161.24 L807.92 161.81 L806.35 162.32 L804.75 162.81 L803.16 163.3 L801.6 163.82 L802.05 164.36 L803.78 164.03 L805.55 163.74 L807.31 163.45 L809.04 163.12 L810.72 162.74 L812.33 162.27 L813.85 161.69 L815.26 160.99 L816.57 160.17 L817.77 159.21 L818.86 158.14 L819.87 156.96 L820.79 155.7 L821.66 154.36 L822.5 152.98 L823.32 151.59 L824.15 150.2 L825 148.85 L825.9 147.56 L826.87 146.33 L827.9 145.18 L829.01 144.13 L830.2 143.16 L831.45 142.28 L832.78 141.48 L834.16 140.74 L835.58 140.05 L837.03 139.4 L838.49 138.75 L839.93 138.08" fill="#fff" stroke="#000" stroke-width="1.45" stroke-linejoin="round"/>
<path d="M831.62 122.34 L830 122.35 L828.38 122.37 L826.76 122.41 L825.16 122.51 L823.58 122.68 L822.03 122.94 L820.5 123.31 L819 123.79 L817.54 124.4 L816.11 125.14 L814.72 125.98 L813.35 126.92 L811.99 127.94 L810.66 129.01 L809.32 130.1 L807.99 131.17 L806.64 132.19 L805.27 133.14 L803.87 133.98 L802.43 134.69 L800.96 135.25 L799.44 135.66 L797.88 135.91 L796.29 136.02 L794.65 135.99 L792.99 135.86 L791.31 135.66 L789.62 135.43 L787.93 135.2 L786.26 135.02 L786.44 135.7 L788.18 136.13 L789.94 136.61 L791.7 137.09 L793.44 137.53 L795.17 137.89 L796.86 138.14 L798.52 138.26 L800.14 138.22 L801.71 138.02 L803.24 137.67 L804.73 137.16 L806.18 136.51 L807.6 135.75 L809 134.9 L810.38 134.01 L811.76 133.09 L813.14 132.18 L814.53 131.31 L815.94 130.52 L817.38 129.81 L818.84 129.2 L820.34 128.71 L821.86 128.34 L823.42 128.07 L825 127.9 L826.6 127.82 L828.22 127.79 L829.85 127.81 L831.48 127.83 L833.11 127.84" fill="#fff" stroke="#000" stroke-width="1.45" stroke-linejoin="round"/>
<path d="M832.49 109.56 L831.07 108.86 L829.65 108.16 L828.22 107.49 L826.78 106.87 L825.33 106.33 L823.86 105.88 L822.37 105.54 L820.85 105.32 L819.31 105.22 L817.74 105.25 L816.15 105.39 L814.55 105.64 L812.92 105.95 L811.29 106.32 L809.65 106.71 L808.02 107.08 L806.39 107.41 L804.78 107.66 L803.19 107.79 L801.63 107.8 L800.1 107.66 L798.6 107.35 L797.13 106.9 L795.69 106.29 L794.28 105.55 L792.88 104.7 L791.51 103.78 L790.13 102.83 L788.76 101.88 L787.38 100.98 L787.24 101.67 L788.57 102.83 L789.9 104.03 L791.22 105.23 L792.55 106.39 L793.89 107.47 L795.26 108.45 L796.65 109.28 L798.08 109.96 L799.54 110.47 L801.03 110.83 L802.55 111.02 L804.1 111.08 L805.67 111.02 L807.26 110.88 L808.86 110.68 L810.46 110.46 L812.07 110.26 L813.66 110.09 L815.24 110 L816.8 109.99 L818.34 110.1 L819.86 110.31 L821.35 110.65 L822.82 111.09 L824.28 111.64 L825.71 112.27 L827.13 112.96 L828.55 113.69 L829.96 114.43 L831.38 115.15" fill="#fff" stroke="#000" stroke-width="1.45" stroke-linejoin="round"/>
<path d="M838.38 99.12 L837.39 97.9 L836.4 96.68 L835.39 95.48 L834.35 94.33 L833.27 93.23 L832.13 92.21 L830.92 91.29 L829.65 90.46 L828.29 89.74 L826.87 89.12 L825.37 88.59 L823.82 88.15 L822.22 87.77 L820.59 87.43 L818.95 87.1 L817.32 86.77 L815.72 86.39 L814.16 85.95 L812.67 85.42 L811.26 84.78 L809.93 84.01 L808.7 83.12 L807.57 82.1 L806.53 80.95 L805.56 79.7 L804.66 78.35 L803.8 76.95 L802.96 75.52 L802.12 74.09 L801.25 72.7 L800.84 73.27 L801.55 74.87 L802.24 76.51 L802.93 78.14 L803.65 79.75 L804.41 81.29 L805.23 82.73 L806.14 84.07 L807.15 85.27 L808.25 86.34 L809.45 87.28 L810.74 88.08 L812.11 88.78 L813.55 89.37 L815.05 89.9 L816.57 90.38 L818.11 90.85 L819.65 91.32 L821.15 91.83 L822.62 92.4 L824.03 93.04 L825.38 93.77 L826.66 94.59 L827.87 95.51 L829.01 96.52 L830.09 97.62 L831.12 98.78 L832.12 99.99 L833.09 101.24 L834.06 102.5 L835.03 103.74" fill="#fff" stroke="#000" stroke-width="1.45" stroke-linejoin="round"/>
<path d="M847.12 92.54 L846.69 91.05 L846.25 89.56 L845.79 88.09 L845.29 86.64 L844.72 85.24 L844.07 83.88 L843.32 82.58 L842.47 81.35 L841.51 80.19 L840.44 79.09 L839.28 78.05 L838.02 77.06 L836.7 76.12 L835.34 75.2 L833.96 74.29 L832.59 73.38 L831.27 72.43 L830.01 71.45 L828.85 70.41 L827.8 69.3 L826.89 68.11 L826.1 66.83 L825.46 65.47 L824.95 64.03 L824.55 62.52 L824.24 60.95 L823.99 59.35 L823.78 57.72 L823.56 56.1 L823.3 54.51 L822.7 54.88 L822.74 56.61 L822.74 58.36 L822.74 60.12 L822.77 61.86 L822.87 63.55 L823.07 65.18 L823.39 66.74 L823.84 68.22 L824.44 69.61 L825.17 70.91 L826.05 72.13 L827.04 73.28 L828.13 74.36 L829.3 75.4 L830.51 76.41 L831.74 77.41 L832.96 78.41 L834.15 79.44 L835.27 80.51 L836.32 81.62 L837.27 82.79 L838.13 84.02 L838.88 85.31 L839.54 86.67 L840.1 88.07 L840.6 89.52 L841.04 91.01 L841.45 92.51 L841.85 94.02 L842.26 95.52" fill="#fff" stroke="#000" stroke-width="1.45" stroke-linejoin="round"/>
<circle cx="859.3" cy="117.8" r="27.9" fill="#fff" stroke="#000" stroke-width="2"/>
<path d="M877.46 102.57 L879.57 99.36 M876.29 101.28 L878.16 97.93 M875.04 100.08 L876.66 96.6 M873.69 98.97 L875.06 95.38 M872.28 97.97 L873.37 94.29 M870.79 97.07 L871.61 93.32 M869.24 96.29 L869.79 92.49 M867.64 95.62 L867.91 91.79 M865.99 95.06 L865.98 91.23 M864.31 94.64 L864.01 90.81 M862.6 94.33 L862.03 90.54 M860.87 94.15 L860.02 90.41 M859.13 94.1 L858.01 90.43 M857.4 94.18 L856.01 90.6 M855.67 94.38 L854.03 90.91 M853.97 94.71 L852.07 91.37 M852.29 95.16 L850.16 91.97 M850.65 95.73 L848.29 92.71 M849.06 96.43 L846.48 93.58 M847.52 97.23 L844.74 94.59 M846.05 98.15 L843.08 95.72 M844.64 99.18 L841.51 96.96 M843.32 100.3 L840.03 98.32 M842.08 101.52 L838.65 99.78 M840.93 102.82 L837.39 101.35 M839.89 104.21 L836.24 102.99 M838.94 105.66 L835.22 104.72 M838.11 107.19 L834.33 106.52 M837.39 108.77 L833.57 108.38 M836.79 110.4 L832.95 110.29 M836.3 112.07 L832.47 112.24 M835.95 113.77 L832.13 114.22 M835.71 115.49 L831.95 116.22 M835.61 117.22 L831.9 118.23 M835.63 118.96 L832.01 120.23 M835.78 120.69 L832.26 122.22 M836.05 122.4 L832.66 124.19 M836.45 124.09 L833.2 126.13 M836.97 125.75 L833.88 128.02 M837.62 127.36 L834.69 129.85 M838.37 128.93 L835.64 131.62 M839.25 130.43 L836.72 133.32 M840.22 131.86 L837.91 134.93 M841.31 133.22 L839.23 136.45 M842.48 134.5 L840.65 137.87 M843.75 135.69 L842.17 139.18" stroke="#000" stroke-width="0.8"/>
<path d="M877.23 102.76 A23.4 23.4 0 0 0 844.26 135.73" fill="none" stroke="#000" stroke-width="1.1"/>
<g fill="none" stroke="#000" stroke-width="1.3" stroke-linejoin="round"><path d="M845.5 103.5 Q851 96.5 859.5 100.5 Q864.5 106.5 862.5 114 Q852 112 845.5 103.5 Z"/><path d="M865 117 Q871 110.5 880 114 Q886 120.5 885.5 128.5 Q873 126 865 117 Z"/><path d="M845 99.5 Q852 93 861 98"/><path d="M863 112 Q871 106 880 112"/><path d="M861.5 111 L855.5 120.5 Q852.5 123.5 856 125 L861 124.5"/><path d="M845.5 126.5 Q850 124.5 854 127.5 Q852.5 133.5 848 132.5 Q845 130.5 845.5 126.5 Z"/><path d="M839 130 Q841.5 137 847 140.5"/></g>
<g fill="none" stroke="#000" stroke-width="0.8"><path d="M848.5 103.8 Q853.5 99 859.5 102.5 Q862 107.5 860.5 111.8 Q852.5 110 848.5 103.8 Z"/><path d="M868 117.3 Q873.5 112.5 880.5 116 Q884 121 883 126.3 Q873.5 124 868 117.3 Z"/></g>
<path d="M851.5 104.5 L855.5 102 L858.5 106 L856.5 110 Z" fill="#000"/>
<path d="M871.5 118 L876 115 L880 119.5 L878.5 124 Z" fill="#000"/>
<text x="0" y="0" transform="translate(226.6 67.8) scale(0.93 1)" class="lab">B</text>
<text x="0" y="0" transform="translate(473.9 119.7) scale(0.93 1)" class="lab">F</text>
<text x="0" y="0" transform="translate(723.3 200) scale(0.93 1)" class="lab">H</text>
<text x="0" y="0" transform="translate(718.3 296) scale(0.93 1)" class="lab">L</text>
<text x="0" y="0" transform="translate(846.6 485.6) scale(0.93 1)" class="lab">E</text>
<text x="0" y="0" transform="translate(880.1 644.1) scale(0.93 1)" class="lab">A</text>
<text x="0" y="0" transform="translate(401.8 515.6) scale(0.93 1)" class="lab">K</text>
<text x="0" y="0" transform="translate(222.2 798.5) scale(0.93 1)" class="lab">C</text>
</svg></body></html>
